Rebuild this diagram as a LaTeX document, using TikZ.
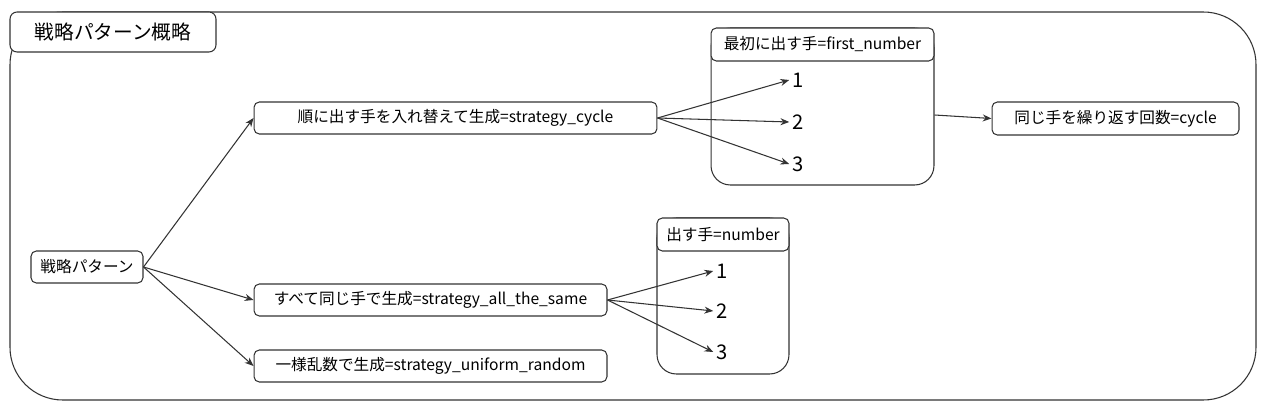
\documentclass[tikz,border=0pt]{standalone}
\usepackage{fontspec}
\setmainfont{Noto Sans CJK JP}
\usepackage{tikz}
\usetikzlibrary{arrows.meta}

\tikzset{
  box/.style={draw=linegray, fill=white, rounded corners=3pt, minimum height=0.64cm, inner sep=0pt},
  head/.style={draw=linegray, fill=white, rounded corners=3pt, minimum height=0.66cm, inner sep=0pt},
  pane/.style={draw=linegray, rounded corners=11pt, inner sep=0pt},
  item/.style={font=\fontsize{11.5}{13}\selectfont, inner sep=1.5pt},
  link/.style={-{Stealth[length=5pt,width=4pt]}, draw=linegray}
}
\definecolor{linegray}{HTML}{333333}

\begin{document}
\begin{tikzpicture}[x=0.02cm, y=-0.02cm, line width=0.6pt, font=\fontsize{8.9}{10}\selectfont]
\useasboundingbox (0,0) rectangle (1264,408);

% outer frame and title
\draw[linegray, rounded corners=30pt] (10,12) rectangle (1256,400);
\node[box, rounded corners=4pt, minimum width=4.12cm, minimum height=0.8cm,
  font=\fontsize{11.2}{13}\selectfont] (title) at (113,32) {戦略パターン概略};

% strategies
\node[box, minimum width=2.24cm] (pattern) at (87,267) {戦略パターン};
\node[box, minimum width=8.06cm] (cyc) at (455.5,118) {順に出す手を入れ替えて生成=strategy\_cycle};
\node[box, minimum width=7.06cm] (same) at (430.5,300) {すべて同じ手で生成=strategy\_all\_the\_same};
\node[box, minimum width=7.06cm] (unif) at (430.5,366) {一様乱数で生成=strategy\_uniform\_random};

% first number pane
\node[pane, minimum width=4.46cm, minimum height=3.14cm] (fnpane) at (822.5,106.5) {};
\node[head, minimum width=4.46cm] (fnhead) at (822.5,44.5) {最初に出す手=first\_number};
\node[item] (fa) at (798,80) {1};
\node[item] (fb) at (798,122) {2};
\node[item] (fc) at (798,164) {3};

% number pane
\node[pane, minimum width=2.64cm, minimum height=3.12cm] (nbpane) at (723,296) {};
\node[head, minimum width=2.64cm] (nbhead) at (723,234.5) {出す手=number};
\node[item] (na) at (722,271) {1};
\node[item] (nb) at (722,311) {2};
\node[item] (nc) at (722,352) {3};

% cycle count
\node[box, minimum width=4.94cm, minimum height=0.66cm] (count) at (1115.5,118.5) {同じ手を繰り返す回数=cycle};

% links
\draw[link] (pattern.east) -- (cyc.west);
\draw[link] (pattern.east) -- (same.west);
\draw[link] (pattern.east) -- (unif.west);
\draw[link] (cyc.east) -- (fa.west);
\draw[link] (cyc.east) -- (fb.west);
\draw[link] (cyc.east) -- (fc.west);
\draw[link] (same.east) -- (na.west);
\draw[link] (same.east) -- (nb.west);
\draw[link] (same.east) -- (nc.west);
\draw[link] ([yshift=-0.17cm]fnpane.east) -- (count.west);
\end{tikzpicture}
\end{document}
